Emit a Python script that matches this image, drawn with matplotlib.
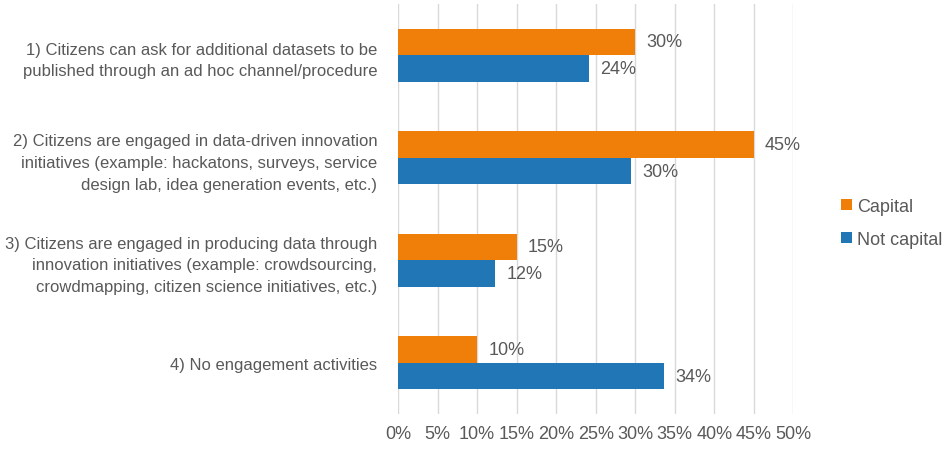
import matplotlib.pyplot as plt
import numpy as np

plt.rcParams['font.family'] = ['Liberation Sans', 'DejaVu Sans']

categories = [
    "1) Citizens can ask for additional datasets to be\npublished through an ad hoc channel/procedure",
    "2) Citizens are engaged in data-driven innovation\ninitiatives (example: hackatons, surveys, service\ndesign lab, idea generation events, etc.)",
    "3) Citizens are engaged in producing data through\ninnovation initiatives (example: crowdsourcing,\ncrowdmapping, citizen science initiatives, etc.)",
    "4) No engagement activities",
]
capital = [0.30, 0.45, 0.15, 0.10]
not_capital = [0.242, 0.295, 0.123, 0.337]
xticks = [0, 0.05, 0.10, 0.15, 0.20, 0.25, 0.30, 0.35, 0.40, 0.45, 0.50]

orange = "#F07F09"
blue = "#2176B5"
grey = "#595959"

fig = plt.figure(figsize=(9.5, 4.52), dpi=100)
ax = fig.add_axes([0.419, 0.082, 0.416, 0.907])

y = np.arange(len(categories))
h = 0.26
ax.barh(y - h / 2, capital, height=h, color=orange, label="Capital", zorder=3)
ax.barh(y + h / 2, not_capital, height=h, color=blue, label="Not capital", zorder=3)

for yi, v in zip(y, capital):
    ax.text(v + 0.014, yi - h / 2, "{:.0%}".format(v), va="center", ha="left",
            fontsize=13, color=grey)
for yi, v in zip(y, not_capital):
    ax.text(v + 0.014, yi + h / 2, "{:.0%}".format(v), va="center", ha="left",
            fontsize=13, color=grey)

ax.set_ylim(len(categories) - 0.5, -0.5)
ax.set_xlim(0, 0.5)
ax.set_xticks(xticks)
ax.set_xticklabels(["{:.0%}".format(t) for t in xticks], fontsize=13)
ax.set_yticks(y)
ax.set_yticklabels(categories, ha="right", multialignment="right", linespacing=1.55,
                   fontsize=12)

ax.tick_params(axis="both", length=0, labelcolor=grey)
ax.tick_params(axis="y", pad=15)
ax.tick_params(axis="x", pad=8)
ax.grid(axis="x", color="#D9D9D9", linewidth=1, zorder=0)
for s in ax.spines.values():
    s.set_visible(False)

fig.legend(loc="center left", bbox_to_anchor=(0.868, 0.505), frameon=False,
           fontsize=13, labelcolor=grey, handlelength=0.6, handleheight=0.6,
           handletextpad=0.3, labelspacing=0.9)

fig.savefig("out.png", dpi=100)
